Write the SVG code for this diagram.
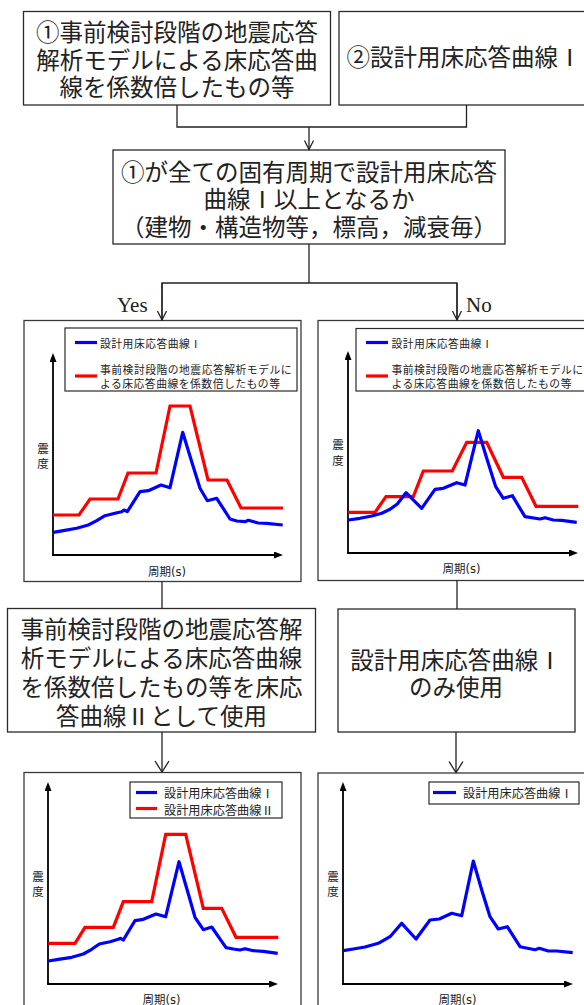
<svg xmlns="http://www.w3.org/2000/svg" width="584" height="1005" viewBox="0 0 584 1005">
<defs>
<style>
.box{fill:#fff;stroke:#2a2a2a;stroke-width:1.3}
.frame{fill:#fff;stroke:#3a3a3a;stroke-width:1.3}
.leg{fill:#fff;stroke:#2a2a2a;stroke-width:1.2}
.t{font-family:"Liberation Serif","Noto Sans CJK JP",serif;font-size:23.5px;fill:#222;text-anchor:middle;dominant-baseline:central}
.yn{font-family:"Liberation Serif",serif;font-size:21px;fill:#222}
.lt{font-family:"Noto Sans CJK JP",sans-serif;font-size:10.8px;letter-spacing:0.5px;fill:#222;dominant-baseline:central}
.lt2{font-family:"Noto Sans CJK JP",sans-serif;font-size:12.2px;fill:#222;dominant-baseline:central}
.ax{font-family:"DejaVu Sans","Noto Sans CJK JP",sans-serif;font-size:11.5px;fill:#222;text-anchor:middle;dominant-baseline:central}
.conn{fill:none;stroke:#222;stroke-width:1.3}
.axis{fill:none;stroke:#000;stroke-width:1.8}
.blue{fill:none;stroke:#0000ff;stroke-width:3.2;stroke-linejoin:round}
.red{fill:none;stroke:#ff0000;stroke-width:3.2;stroke-linejoin:miter}
</style>
<marker id="ah" markerUnits="userSpaceOnUse" viewBox="0 0 9 7" markerWidth="9" markerHeight="7" refX="3" refY="3.5" orient="auto">
<path d="M0,0 L9,3.5 L0,7 Z" fill="#000"/>
</marker>
<marker id="chev" markerUnits="userSpaceOnUse" viewBox="-1 -6 11 12" markerWidth="11" markerHeight="12" refX="9" refY="0" orient="auto">
<path d="M0,-4.5 L9,0 L0,4.5" fill="none" stroke="#222" stroke-width="1.3"/>
</marker>
<marker id="chevL" markerUnits="userSpaceOnUse" viewBox="-1 -8 13 16" markerWidth="13" markerHeight="16" refX="11" refY="0" orient="auto">
<path d="M0,-7 L11,0 L0,7" fill="none" stroke="#222" stroke-width="1.3"/>
</marker>
</defs>

<g id="node-source1">
<rect class="box" x="23.5" y="11.5" width="307" height="93.5"/>
<text class="t"><tspan x="177" y="33">①事前検討段階の地震応答</tspan><tspan x="177" y="60.5">解析モデルによる床応答曲</tspan><tspan x="177" y="88">線を係数倍したもの等</tspan></text>
</g>

<g id="node-source2">
<rect class="box" x="339" y="11.5" width="255" height="93.5"/>
<text class="t" x="464" y="58">②設計用床応答曲線Ⅰ</text>
</g>

<g id="node-decision">
<rect class="box" x="113" y="150" width="392" height="94"/>
<text class="t"><tspan x="309" y="172.5">①が全ての固有周期で設計用床応答</tspan><tspan x="309" y="200">曲線Ⅰ以上となるか</tspan><tspan x="309" y="227.5">（建物・構造物等，標高，減衰毎）</tspan></text>
</g>

<g id="label-yes"><text class="yn" x="117" y="312">Yes</text></g>
<g id="label-no"><text class="yn" x="466" y="312">No</text></g>

<g id="chart-yes">
<rect class="frame" x="24" y="320.5" width="277" height="261"/>
<rect class="leg" x="65" y="328" width="232" height="63"/>
<line x1="75" y1="342.5" x2="97" y2="342.5" stroke="#0000ff" stroke-width="3.2"/>
<text class="lt" x="100" y="342.5">設計用床応答曲線Ⅰ</text>
<line x1="75" y1="376" x2="97" y2="376" stroke="#ff0000" stroke-width="3.2"/>
<text class="lt"><tspan x="100" y="368.5">事前検討段階の地震応答解析モデルに</tspan><tspan x="100" y="383">よる床応答曲線を係数倍したもの等</tspan></text>
<polyline class="axis" points="53,555 53,359" marker-end="url(#ah)"/>
<polyline class="axis" points="52.1,555 277,555" marker-end="url(#ah)"/>
<text class="ax"><tspan x="43" y="449">震</tspan><tspan x="43" y="464">度</tspan></text>
<text class="ax" x="167" y="571.5">周期(s)</text>
<polyline class="red" points="53,515 79,515 90,499 118,499 128,473 156,473 170,406 190,406 208,480 227,480 241,508 283,508"/>
<polyline class="blue" points="53.3,532.3 63.3,530.7 76.7,528.3 88.3,525 96.7,520.7 105,515.7 115,513.3 121.7,511.7 124,510 127.3,511.7 140,491.7 148.3,490.7 161,485 170,487.7 182.7,432.3 191.7,461.7 200,488.3 207.3,500.7 216.7,498.3 230,519 236.7,521 245,521.7 248.3,520.3 258.3,523 266.7,523.3 282.7,525"/>
</g>

<g id="chart-no">
<rect class="frame" x="318" y="320.5" width="280" height="260"/>
<rect class="leg" x="356" y="328.5" width="240" height="62.5"/>
<line x1="366" y1="342.5" x2="388" y2="342.5" stroke="#0000ff" stroke-width="3.2"/>
<text class="lt" x="391.5" y="342.5">設計用床応答曲線Ⅰ</text>
<line x1="366" y1="376" x2="388" y2="376" stroke="#ff0000" stroke-width="3.2"/>
<text class="lt"><tspan x="391.5" y="368.5">事前検討段階の地震応答解析モデルに</tspan><tspan x="391.5" y="383">よる床応答曲線を係数倍したもの等</tspan></text>
<polyline class="axis" points="348,553 348,357" marker-end="url(#ah)"/>
<polyline class="axis" points="347.1,553 572,553" marker-end="url(#ah)"/>
<text class="ax"><tspan x="338" y="445">震</tspan><tspan x="338" y="461">度</tspan></text>
<text class="ax" x="461.5" y="568.5">周期(s)</text>
<polyline class="red" points="348.3,512.3 375,512.3 386,496.7 413.3,496.7 423.3,471 452.3,471 466.7,442.3 486.7,442.3 503.3,477.3 521.7,477.3 536,506.3 578.3,506.3"/>
<polyline class="blue" points="348.3,520 360,518.3 371.7,516 381.7,513.3 390,509.3 397.3,504 406,492.7 421.7,508.3 435,489.3 443.3,488.3 456.7,482.7 465,485 478.3,430.7 486.7,458.3 495.7,486.7 503.3,498.3 512.3,495.7 525,516.7 540,519 545,517.7 553.3,520 561.7,520.3 576.7,522.3"/>
</g>

<g id="node-use2">
<rect class="box" x="7.5" y="608.5" width="308" height="123.5"/>
<text class="t"><tspan x="161.5" y="630">事前検討段階の地震応答解</tspan><tspan x="161.5" y="659">析モデルによる床応答曲線</tspan><tspan x="161.5" y="688">を係数倍したもの等を床応</tspan><tspan x="161.5" y="717">答曲線Ⅱとして使用</tspan></text>
</g>

<g id="node-use1">
<rect class="box" x="338" y="609" width="237" height="123"/>
<text class="t"><tspan x="456" y="660.5">設計用床応答曲線Ⅰ</tspan><tspan x="456" y="688">のみ使用</tspan></text>
</g>

<g id="chart-use2">
<rect class="frame" x="24" y="772.5" width="277" height="245"/>
<rect class="leg" x="130" y="782" width="152" height="36"/>
<line x1="136" y1="792.5" x2="157" y2="792.5" stroke="#0000ff" stroke-width="3.2"/>
<text class="lt2" x="164" y="793">設計用床応答曲線Ⅰ</text>
<line x1="136" y1="808.5" x2="157" y2="808.5" stroke="#ff0000" stroke-width="3.2"/>
<text class="lt2" x="164" y="809.5">設計用床応答曲線Ⅱ</text>
<polyline class="axis" points="48,984 48,788" marker-end="url(#ah)"/>
<polyline class="axis" points="47.1,984 272,984" marker-end="url(#ah)"/>
<text class="ax"><tspan x="38" y="877">震</tspan><tspan x="38" y="892">度</tspan></text>
<text class="ax" x="161.5" y="999.5">周期(s)</text>
<polyline class="red" points="48.3,943.3 75,943.3 85,927.3 113.3,927.3 123.3,901.7 151.7,901.7 165.7,834.3 185.7,834.3 203.3,908.3 221.7,908.3 236,937.3 278.3,937.3"/>
<polyline class="blue" points="48.3,961 58.3,959.3 71.7,957.3 83.3,954 91.7,949.3 99.3,944 110,941.7 118.3,939.3 120.7,938.3 123.3,940 135,920.7 143.3,919.3 156,914 165.7,916.7 179,861.7 187.7,891.7 195,917.3 203.3,929.7 211.7,927 226,947.7 233.3,949 240,950 245,948.7 253.3,950.7 263.3,951.3 277.7,953.3"/>
</g>

<g id="chart-use1">
<rect class="frame" x="318" y="773" width="280" height="245"/>
<rect class="leg" x="429" y="782" width="150" height="22"/>
<line x1="433" y1="792.5" x2="456" y2="792.5" stroke="#0000ff" stroke-width="3.2"/>
<text class="lt2" x="463" y="793">設計用床応答曲線Ⅰ</text>
<polyline class="axis" points="343,984 343,788" marker-end="url(#ah)"/>
<polyline class="axis" points="342.1,984 567,984" marker-end="url(#ah)"/>
<text class="ax"><tspan x="333" y="877">震</tspan><tspan x="333" y="892">度</tspan></text>
<text class="ax" x="457.5" y="999.5">周期(s)</text>
<polyline class="blue" points="343.3,950.7 353.3,949 365,947 378.3,943.3 390,936.7 401.7,923.3 416,939 430,920 439.3,919 451.7,913.3 461.7,915.7 473.3,861 481.7,890 490,916.7 498.3,929 507.3,926.7 520,946.7 535,949.7 539.3,948.3 548.3,951 556.7,951 572.7,952.7"/>
</g>

<g id="connectors">
<polyline class="conn" points="177,105 177,127 466.5,127 466.5,105"/>
<line class="conn" x1="309" y1="127" x2="309" y2="149.5" marker-end="url(#chev)"/>
<line class="conn" x1="309" y1="244" x2="309" y2="283"/>
<polyline class="conn" points="162,320 162,283 457,283 457,320"/>
<line class="conn" x1="162" y1="283" x2="162" y2="320" marker-end="url(#chev)"/>
<line class="conn" x1="457" y1="283" x2="457" y2="320" marker-end="url(#chev)"/>
<line class="conn" x1="162" y1="581.5" x2="162" y2="608.5"/>
<line class="conn" x1="457" y1="580.5" x2="457" y2="609"/>
<line class="conn" x1="162" y1="732" x2="162" y2="772" marker-end="url(#chevL)"/>
<line class="conn" x1="456" y1="732" x2="456" y2="772.5" marker-end="url(#chevL)"/>
</g>
</svg>
